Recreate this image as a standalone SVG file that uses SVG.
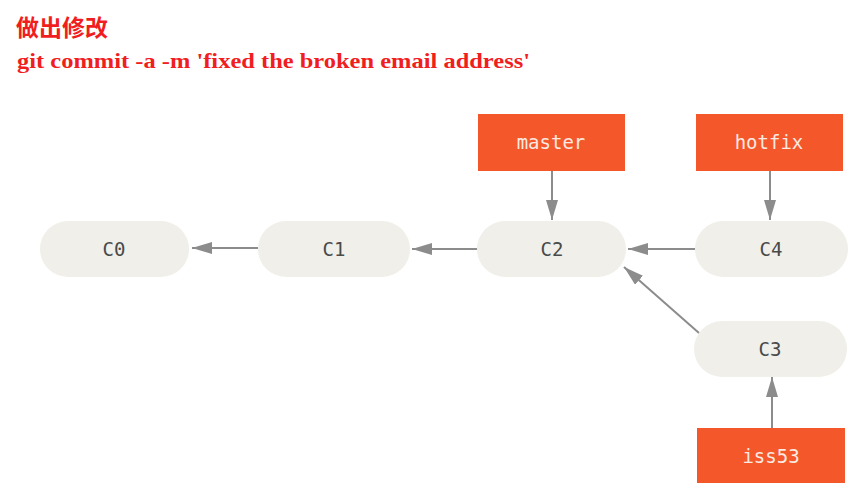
<svg xmlns="http://www.w3.org/2000/svg" width="853" height="497" viewBox="0 0 853 497">
<style>
.title{font-family:"Liberation Serif","Noto Sans CJK SC",serif;font-weight:bold;fill:#f01e1e}
.pill{fill:#f0efe9}
.ptxt{font-family:"DejaVu Sans Mono","Liberation Mono",monospace;font-size:19px;fill:#4a4a4a;text-anchor:middle}
.box{fill:#f4582a}
.btxt{font-family:"DejaVu Sans Mono","Liberation Mono",monospace;font-size:19px;fill:#fbe9e2;text-anchor:middle}
.edge{stroke:#8c8c8c;stroke-width:2;fill:none;marker-end:url(#arrb)}
</style>
<defs>
<marker id="arrb" viewBox="0 0 20 12" refX="20" refY="6" markerWidth="20" markerHeight="12" markerUnits="userSpaceOnUse" orient="auto">
<path d="M0,0 L20,6 L0,12 z" fill="#8c8c8c"/>
</marker>
</defs>
<rect width="853" height="497" fill="#ffffff"/>
<text class="title" x="16" y="36" font-size="23">做出修改</text>
<text class="title" x="17" y="68" font-size="22" textLength="513" lengthAdjust="spacingAndGlyphs">git commit -a -m 'fixed the broken email address'</text>
<g id="connectors">
<line class="edge" x1="258" y1="248" x2="192" y2="248"/>
<line class="edge" x1="477" y1="249" x2="412" y2="249"/>
<line class="edge" x1="695" y1="249" x2="628" y2="249"/>
<line class="edge" x1="699" y1="333" x2="624" y2="267"/>
<line class="edge" x1="552" y1="171" x2="552" y2="220"/>
<line class="edge" x1="770" y1="171" x2="770" y2="220"/>
<line class="edge" x1="772" y1="428" x2="772" y2="377"/>
</g>
<g id="C0"><rect class="pill" x="40" y="221" width="149" height="56" rx="28"/><text class="ptxt" x="114" y="256">C0</text></g>
<g id="C1"><rect class="pill" x="258" y="221" width="152" height="56" rx="28"/><text class="ptxt" x="334" y="256">C1</text></g>
<g id="C2"><rect class="pill" x="477" y="221" width="149" height="56" rx="28"/><text class="ptxt" x="552" y="256">C2</text></g>
<g id="C4"><rect class="pill" x="695" y="221" width="153" height="56" rx="28"/><text class="ptxt" x="771" y="256">C4</text></g>
<g id="C3"><rect class="pill" x="694" y="321" width="153" height="56" rx="28"/><text class="ptxt" x="770" y="356">C3</text></g>
<g id="master"><rect class="box" x="478" y="114" width="147" height="57"/><text class="btxt" x="551" y="149">master</text></g>
<g id="hotfix"><rect class="box" x="696" y="114" width="147" height="57"/><text class="btxt" x="769" y="149">hotfix</text></g>
<g id="iss53"><rect class="box" x="697" y="428" width="148" height="55"/><text class="btxt" x="771" y="463">iss53</text></g>
</svg>
